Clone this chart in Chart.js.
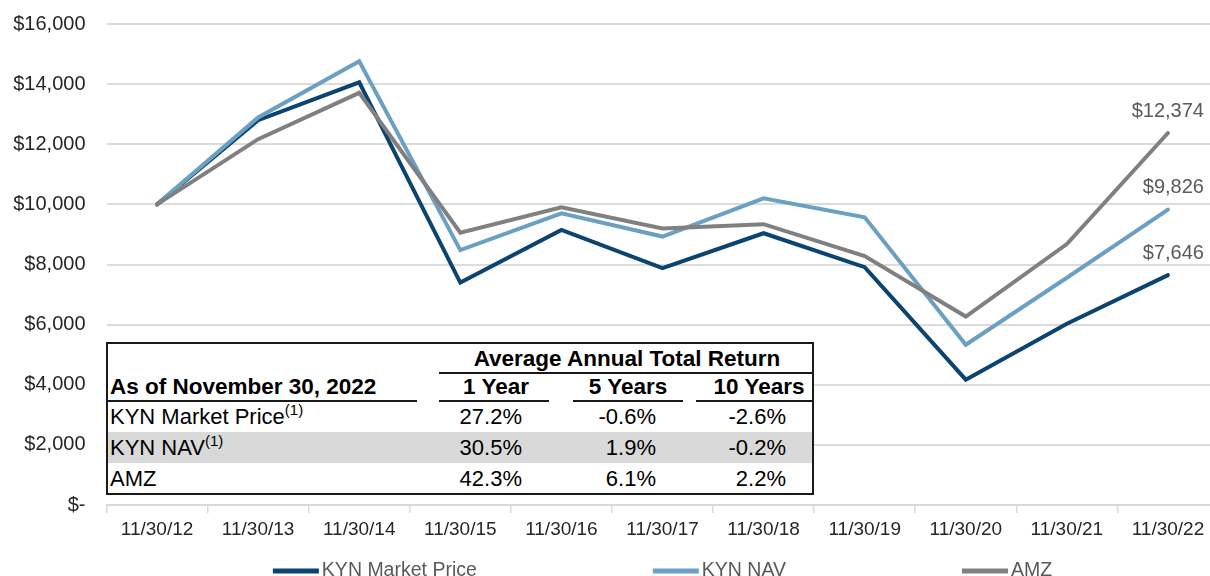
<!DOCTYPE html>
<html><head><meta charset="utf-8">
<script src="https://cdn.jsdelivr.net/npm/chart.js@4.4.0/dist/chart.umd.min.js"></script>
<style>
html,body{margin:0;padding:0;overflow:hidden;background:#fff;width:1210px;height:576px}
#wrap{position:relative;width:1220px;height:590px}
#c{position:absolute;left:0;top:0}
#tbl{position:absolute;left:106px;top:342px;width:708px;height:153px;border:2px solid #1a1a1a;box-sizing:border-box;background:#fff;font-family:"Liberation Sans",Arial,sans-serif;color:#000}
#tbl div{position:absolute;white-space:nowrap;line-height:1}
#tbl sup{font-size:15px;vertical-align:top;position:relative;top:-4px}
</style></head><body>
<div id="wrap"><canvas id="c" width="1220" height="590"></canvas><div id="tbl"></div></div>
<script>
// ---- data ----
const categories = ['11/30/12','11/30/13','11/30/14','11/30/15','11/30/16','11/30/17','11/30/18','11/30/19','11/30/20','11/30/21','11/30/22'];
const kynMarketPrice = [10000, 12800, 14060, 7400, 9150, 7880, 9040, 7910, 4170, 6030, 7646];
const kynNav         = [10000, 12890, 14760, 8480, 9700, 8930, 10200, 9570, 5330, 7560, 9826];
const amz            = [10000, 12170, 13710, 9060, 9900, 9200, 9340, 8280, 6270, 8680, 12374];
const seriesNames = ['KYN Market Price', 'KYN NAV', 'AMZ'];
const yMin = 0, yMax = 16000, yStep = 2000;

const tableTitle = 'Average Annual Total Return';
const tableAsOf = 'As of November 30, 2022';
const periodLabels = ['1 Year', '5 Years', '10 Years'];
const tableRowLabels = ['KYN Market Price', 'KYN NAV', 'AMZ'];
const tableRowNotes = ['(1)', '(1)', ''];
const returnsMarketPrice = ['27.2%', '-0.6%', '-2.6%'];
const returnsNav = ['30.5%', '1.9%', '-0.2%'];
const returnsAmz = ['42.3%', '6.1%', '2.2%'];

// ---- chart ----
const colors = ['#0b4470', '#6ba0c2', '#808080'];
const SANS = '"Liberation Sans",Arial,sans-serif';
const money = v => v === 0 ? '$-' : '$' + v.toLocaleString('en-US');

const endLabels = {
  id: 'endLabels',
  afterDatasetsDraw(chart) {
    const ctx = chart.ctx;
    ctx.save();
    ctx.font = '20px ' + SANS;
    ctx.fillStyle = '#595959';
    ctx.textAlign = 'right';
    ctx.textBaseline = 'middle';
    chart.data.datasets.forEach((ds, i) => {
      const meta = chart.getDatasetMeta(i);
      const p = meta.data[meta.data.length - 1];
      ctx.fillText(money(ds.data[ds.data.length - 1]), p.x + 36, p.y - 22);
    });
    ctx.restore();
  }
};

const bottomLegend = {
  id: 'bottomLegend',
  afterDraw(chart) {
    const ctx = chart.ctx, ca = chart.chartArea;
    ctx.save();
    ctx.font = '19.5px ' + SANS;
    ctx.textBaseline = 'middle';
    ctx.textAlign = 'left';
    const mw = 46, mh = 5, g = 3, gap = 176;
    const widths = chart.data.datasets.map(ds => mw + g + ctx.measureText(ds.label).width);
    const total = widths.reduce((a, b) => a + b, 0) + gap * (widths.length - 1);
    let x = (ca.left + ca.right) / 2 - total / 2;
    const y = ca.bottom + 66;
    chart.data.datasets.forEach((ds, i) => {
      ctx.fillStyle = ds.borderColor;
      ctx.fillRect(x, y - mh / 2, mw, mh);
      ctx.fillStyle = '#595959';
      ctx.fillText(ds.label, x + mw + g, y);
      x += widths[i] + gap;
    });
    ctx.restore();
  }
};

const seriesData = [kynMarketPrice, kynNav, amz];
new Chart(document.getElementById('c'), {
  type: 'line',
  data: {
    labels: categories,
    datasets: seriesData.map((d, i) => ({
      label: seriesNames[i],
      data: d,
      borderColor: colors[i],
      backgroundColor: colors[i],
      borderWidth: 4,
      pointRadius: 0,
      tension: 0,
      borderCapStyle: 'round',
      order: 2 - i
    }))
  },
  options: {
    responsive: false,
    animation: false,
    layout: { padding: { top: 24, right: 1.5, left: 0, bottom: 0 } },
    plugins: { legend: { display: false }, tooltip: { enabled: false } },
    scales: {
      x: {
        type: 'category',
        offset: true,
        grid: { offset: true, drawOnChartArea: false, drawTicks: true, tickLength: 8, color: '#d9d9d9', lineWidth: 1.5 },
        border: { display: true, color: '#d9d9d9', width: 2 },
        ticks: { padding: 5, color: '#262626', font: { family: SANS, size: 19 }, maxRotation: 0, autoSkip: false },
        afterFit: s => { s.height = 85; }
      },
      y: {
        min: yMin, max: yMax,
        grid: { drawTicks: true, tickLength: 21, tickColor: 'rgba(0,0,0,0)', color: '#dcdcdc', lineWidth: 2 },
        border: { display: false },
        ticks: { stepSize: yStep, padding: 0, color: '#262626', font: { family: SANS, size: 20 }, callback: v => money(v) },
        afterFit: s => { s.width = 106.5; }
      }
    }
  },
  plugins: [endLabels, bottomLegend]
});

// ---- table overlay ----
const tbl = document.getElementById('tbl');
const OX = 108, OY = 344; // inner origin in page coords
function el(html, x, y, align, style) {
  const d = document.createElement('div');
  d.innerHTML = html;
  const tx = align === 'center' ? '-50%' : align === 'right' ? '-100%' : '0';
  d.style.cssText = `left:${x - OX}px;top:${y - OY}px;transform:translate(${tx},-50%);` + (style || '');
  tbl.appendChild(d);
  return d;
}
function rule(x1, x2, y) {
  const d = document.createElement('div');
  d.style.cssText = `left:${x1 - OX}px;top:${y - OY}px;width:${x2 - x1}px;height:0;border-top:2px solid #1a1a1a;`;
  tbl.appendChild(d);
}
// shaded NAV row
const band = document.createElement('div');
band.style.cssText = `left:0;top:${432 - OY}px;width:704px;height:31px;background:#d9d9d9;`;
tbl.appendChild(band);

const H = 'font-size:22.5px;font-weight:bold;';
const B = 'font-size:22px;';
el(tableTitle, 627, 359, 'center', H);
rule(439, 812, 372);
el(tableAsOf, 110, 387, 'left', H);
const colCenters = [496, 628, 759];
const colRights = [522, 656, 786];
periodLabels.forEach((p, i) => el(p, colCenters[i], 387, 'center', H));
rule(106, 417, 400); rule(439, 549, 400); rule(573, 683, 400); rule(696, 812, 400);

const rowsY = [417, 448, 479];
const tableReturns = [returnsMarketPrice, returnsNav, returnsAmz];
tableRowLabels.forEach((lab, r) => {
  el(lab + (tableRowNotes[r] ? '<sup>' + tableRowNotes[r] + '</sup>' : ''), 110, rowsY[r], 'left', B);
  tableReturns[r].forEach((v, c) => el(v, colRights[c], rowsY[r], 'right', B));
});
</script>
</body></html>
